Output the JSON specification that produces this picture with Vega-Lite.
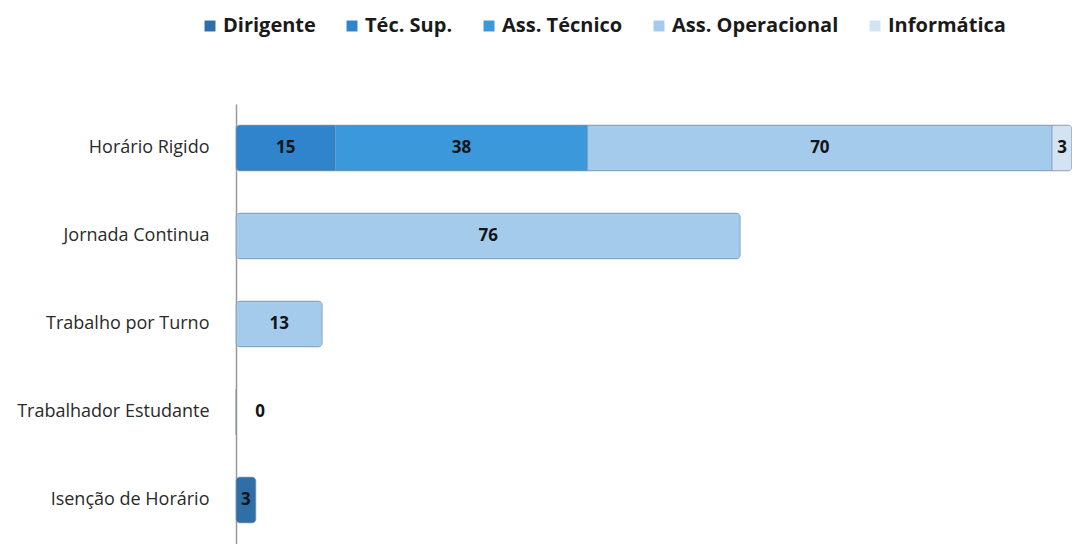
{
  "$schema": "https://vega.github.io/schema/vega-lite/v6.json",
  "autosize": {"type": "none"},
  "padding": {"left": 236, "top": 104, "right": 0, "bottom": 0},
  "width": 836,
  "height": 440,
  "background": "white",
  "config": {"view": {"stroke": null}, "font": "Open Sans"},
  "data": {
    "values": [
      {"cat": "Horário Rigido", "grupo": "Téc. Sup.", "ord": 2, "n": 15},
      {"cat": "Horário Rigido", "grupo": "Ass. Técnico", "ord": 3, "n": 38},
      {"cat": "Horário Rigido", "grupo": "Ass. Operacional", "ord": 4, "n": 70},
      {"cat": "Horário Rigido", "grupo": "Informática", "ord": 5, "n": 3},
      {"cat": "Jornada Continua", "grupo": "Ass. Operacional", "ord": 4, "n": 76},
      {"cat": "Trabalho por Turno", "grupo": "Ass. Operacional", "ord": 4, "n": 13},
      {"cat": "Trabalhador Estudante", "grupo": "Dirigente", "ord": 1, "n": 0},
      {"cat": "Isenção de Horário", "grupo": "Dirigente", "ord": 1, "n": 3}
    ]
  },
  "encoding": {
    "y": {
      "field": "cat", "type": "nominal",
      "sort": ["Horário Rigido", "Jornada Continua", "Trabalho por Turno", "Trabalhador Estudante", "Isenção de Horário"],
      "scale": {"paddingInner": 0.48, "paddingOuter": 0.24},
      "axis": {"title": null, "ticks": false, "labelFontSize": 18, "labelLimit": 400, "labelColor": "#2a2a2a", "labelPadding": 27, "domain": true, "domainColor": "#9a9a9a", "domainWidth": 1.5, "labelFont": "Open Sans"}
    }
  },
  "layer": [
    {
      "mark": {"type": "bar", "cornerRadius": 4, "stroke": "#7d93a8", "strokeWidth": 0.6},
      "encoding": {
        "x": {"field": "n", "type": "quantitative", "stack": "zero", "scale": {"domain": [0, 126], "nice": false}, "axis": null},
        "color": {
          "field": "grupo", "type": "nominal",
          "scale": {"domain": ["Dirigente", "Téc. Sup.", "Ass. Técnico", "Ass. Operacional", "Informática"], "range": ["#2f6ea6", "#2f84cc", "#3b98da", "#a5cbec", "#d3e3f4"]},
          "legend": {"title": null, "orient": "none", "direction": "horizontal", "legendX": -36, "legendY": -88, "symbolType": "square", "symbolSize": 120, "symbolStrokeWidth": 0, "labelFontSize": 20, "labelLimit": 400, "labelFontWeight": "bold", "labelColor": "#1a1a1a", "labelFont": "Open Sans", "columnPadding": 26, "symbolOffset": 0, "labelOffset": 3}
        },
        "order": {"field": "ord", "type": "quantitative"}
      }
    },
    {
      "transform": [
        {"stack": "n", "groupby": ["cat"], "sort": [{"field": "ord"}], "as": ["x0", "x1"]},
        {"calculate": "(datum.x0 + datum.x1) / 2", "as": "mid"},
        {"filter": "datum.n > 0"}
      ],
      "mark": {"type": "text", "fontSize": 17, "fontWeight": "bold", "color": "#141414", "font": "Open Sans"},
      "encoding": {
        "x": {"field": "mid", "type": "quantitative", "scale": {"domain": [0, 126], "nice": false}},
        "text": {"field": "n", "type": "quantitative"}
      }
    },
    {
      "transform": [{"filter": "datum.n === 0"}],
      "mark": {"type": "text", "fontSize": 17, "fontWeight": "bold", "color": "#141414", "font": "Open Sans", "dx": 24},
      "encoding": {
        "x": {"field": "n", "type": "quantitative", "scale": {"domain": [0, 126], "nice": false}},
        "text": {"field": "n", "type": "quantitative"}
      }
    }
  ]
}
